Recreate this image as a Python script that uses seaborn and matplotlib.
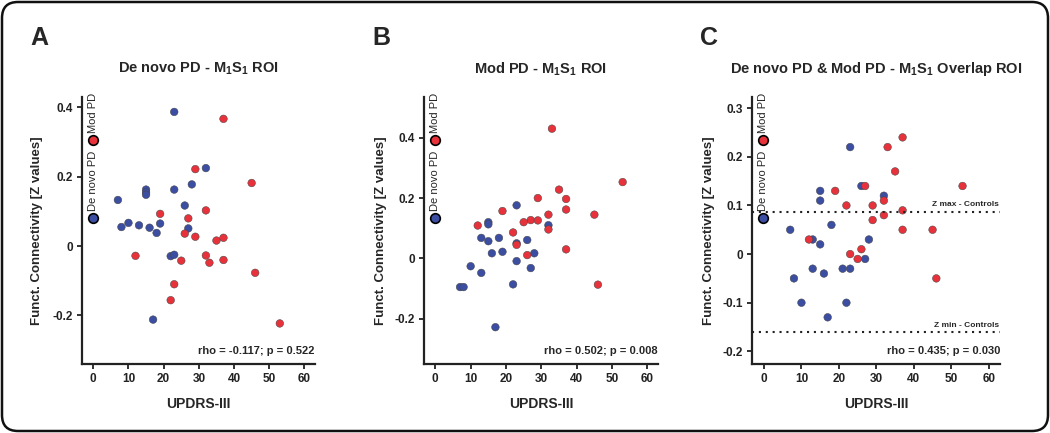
import pandas as pd
import matplotlib.pyplot as plt
import seaborn as sns
from matplotlib.patches import FancyBboxPatch

# UPDRS-III scores and connectivity values
# Panel A - De novo PD M1S1 ROI
a_denovo_x = [23, 32, 28, 23, 15, 15, 15, 7, 26, 8, 10, 13, 16, 19, 18, 27, 22, 23, 17]
a_denovo_y = [0.387, 0.225, 0.178, 0.163, 0.163, 0.155, 0.148, 0.133, 0.117, 0.055, 0.067,
              0.060, 0.053, 0.065, 0.038, 0.051, -0.029, -0.025, -0.212]
a_mod_x = [37, 29, 45, 32, 19, 27, 26, 29, 35, 37, 12, 32, 25, 33, 37, 46, 23, 22, 53]
a_mod_y = [0.367, 0.222, 0.182, 0.103, 0.093, 0.080, 0.036, 0.027, 0.016, 0.024, -0.028,
           -0.027, -0.042, -0.048, -0.040, -0.077, -0.110, -0.156, -0.223]

# Panel B - Mod PD M1S1 ROI
b_denovo_x = [23, 15, 15, 32, 13, 15, 18, 26, 23, 16, 19, 28, 10, 23, 27, 13, 7, 8, 22, 17]
b_denovo_y = [0.176, 0.120, 0.113, 0.110, 0.068, 0.057, 0.068, 0.061, 0.050, 0.017, 0.022,
              0.017, -0.026, -0.009, -0.032, -0.048, -0.095, -0.095, -0.086, -0.228]
b_mod_x = [33, 53, 35, 29, 37, 37, 19, 45, 32, 27, 29, 25, 12, 32, 22, 23, 37, 26, 46]
b_mod_y = [0.430, 0.253, 0.228, 0.200, 0.197, 0.162, 0.157, 0.145, 0.145, 0.127, 0.126,
           0.120, 0.109, 0.096, 0.086, 0.045, 0.030, 0.011, -0.087]

# Panel C - overlap ROI
c_denovo_x = [23, 15, 15, 26, 32, 7, 18, 13, 15, 28, 27, 8, 13, 16, 21, 23, 10, 22, 17]
c_denovo_y = [0.22, 0.13, 0.11, 0.14, 0.12, 0.05, 0.06, 0.03, 0.02, 0.03, -0.01, -0.05,
              -0.03, -0.04, -0.03, -0.03, -0.10, -0.10, -0.13]
c_mod_x = [37, 33, 35, 53, 27, 19, 22, 29, 32, 37, 32, 29, 37, 45, 12, 26, 23, 25, 46]
c_mod_y = [0.24, 0.22, 0.17, 0.14, 0.14, 0.13, 0.10, 0.10, 0.11, 0.09, 0.08, 0.07, 0.05,
           0.05, 0.03, 0.01, 0.00, -0.01, -0.05]

z_max_controls = 0.087
z_min_controls = -0.160

titles = ["De novo PD - M$_\\mathbf{1}$S$_\\mathbf{1}$ ROI",
          "Mod PD - M$_\\mathbf{1}$S$_\\mathbf{1}$ ROI",
          "De novo PD & Mod PD - M$_\\mathbf{1}$S$_\\mathbf{1}$ Overlap ROI"]
letters = ["A", "B", "C"]
stats = ["rho = -0.117; p = 0.522", "rho = 0.502; p = 0.008", "rho = 0.435; p = 0.030"]

blue = "#3B4EA2"
red = "#E8323B"

sns.set_style("ticks")
plt.rcParams['font.family'] = ['Liberation Sans', 'DejaVu Sans']
plt.rcParams['mathtext.fontset'] = 'custom'
plt.rcParams['mathtext.rm'] = 'Liberation Sans'
plt.rcParams['mathtext.bf'] = 'Liberation Sans:bold'

fig = plt.figure(figsize=(10.5, 4.33), dpi=100)

# axes rectangles in pixels: left, right
W, H = 1050, 433
top_px, bot_px = 97, 364
rects = [(82, 315), (424, 658), (752, 1000)]
ylab_gap = [39, 37, 37]
ylims = [(-0.34, 0.43), (-0.35, 0.535), (-0.226, 0.323)]
yticks = [[-0.2, 0, 0.2, 0.4], [-0.2, 0, 0.2, 0.4], [-0.2, -0.1, 0, 0.1, 0.2, 0.3]]
yticklabels = [["-0.2", "0", "0.2", "0.4"], ["-0.2", "0", "0.2", "0.4"],
               ["-0.2", "-0.1", "0", "0.1", "0.2", "0.3"]]
letter_x = [30, 372, 700]

panels = [(a_denovo_x, a_denovo_y, a_mod_x, a_mod_y),
          (b_denovo_x, b_denovo_y, b_mod_x, b_mod_y),
          (c_denovo_x, c_denovo_y, c_mod_x, c_mod_y)]

for i, (dx, dy, mx, my) in enumerate(panels):
    l, r = rects[i]
    ax = fig.add_axes([l / W, 1 - bot_px / H, (r - l) / W, (bot_px - top_px) / H])
    df = pd.concat([
        pd.DataFrame({'updrs': dx, 'z': dy, 'group': 'De novo PD'}),
        pd.DataFrame({'updrs': mx, 'z': my, 'group': 'Mod PD'}),
    ])
    sns.scatterplot(data=df, x='updrs', y='z', hue='group',
                    palette={'De novo PD': blue, 'Mod PD': red},
                    s=30, edgecolor='#444444', linewidth=0.35, legend=False, ax=ax)
    ax.set_xlim(-3.2, 63)
    ax.set_ylim(*ylims[i])
    ax.set_xticks(range(0, 61, 10))
    ax.set_yticks(yticks[i])
    ax.set_yticklabels(yticklabels[i])
    sns.despine(ax=ax)
    for s in ['left', 'bottom']:
        ax.spines[s].set_linewidth(1.6)
        ax.spines[s].set_color('#222222')
    ax.tick_params(width=1.3, length=3.5, pad=3, labelsize=8.5, colors='#222222')
    for lab in ax.get_xticklabels() + ax.get_yticklabels():
        lab.set_fontweight('bold')

    ax.set_xlabel("UPDRS-III", fontsize=10, fontweight='bold')
    ax.set_ylabel("Funct. Connectivity [Z values]", fontsize=9.5, fontweight='bold')
    ax.xaxis.set_label_coords(0.5, -(397 - bot_px) / (bot_px - top_px))
    ax.yaxis.set_label_coords(-ylab_gap[i] / (r - l), 0.5)

    ax.text(0.5, 1 + (top_px - 69) / (bot_px - top_px), titles[i], transform=ax.transAxes,
            ha='center', va='center', fontsize=10.5, fontweight='bold')
    fig.text(letter_x[i] / W, 1 - 45 / H, letters[i], fontsize=18, fontweight='bold',
             ha='left', va='baseline')

    ax.text(1.0, 0.03, stats[i], transform=ax.transAxes, ha='right', va='bottom',
            fontsize=8, fontweight='bold')

    # vertical legend inside the axes
    mk_x = 10.5 / (r - l)
    ax.scatter([mk_x], [0.547], s=48, color=blue, edgecolor='black', linewidth=1.2,
               transform=ax.transAxes, clip_on=False, zorder=5)
    ax.scatter([mk_x], [0.839], s=48, color=red, edgecolor='black', linewidth=1.2,
               transform=ax.transAxes, clip_on=False, zorder=5)
    ax.text(mk_x, 0.685, "De novo PD", transform=ax.transAxes, rotation=90,
            ha='center', va='center', fontsize=8)
    ax.text(mk_x, 0.94, "Mod PD", transform=ax.transAxes, rotation=90,
            ha='center', va='center', fontsize=8)

    if i == 2:
        ax.axhline(z_max_controls, color='#222222', linestyle=(0, (1, 2.3)), linewidth=1.5)
        ax.axhline(z_min_controls, color='#222222', linestyle=(0, (1, 2.3)), linewidth=1.5)
        ax.text(0.995, z_max_controls + 0.007, "Z max - Controls", transform=ax.get_yaxis_transform(),
                ha='right', va='bottom', fontsize=6, fontweight='bold')
        ax.text(0.995, z_min_controls + 0.006, "Z min - Controls", transform=ax.get_yaxis_transform(),
                ha='right', va='bottom', fontsize=6, fontweight='bold')

# rounded outer frame
frame = FancyBboxPatch((0.02, 0.02), 10.46, 4.29, boxstyle="round,pad=0,rounding_size=0.16",
                       transform=fig.dpi_scale_trans, fill=False, edgecolor='#111111',
                       linewidth=1.8, clip_on=False)
fig.patches.append(frame)

plt.savefig("out.png", dpi=100)
